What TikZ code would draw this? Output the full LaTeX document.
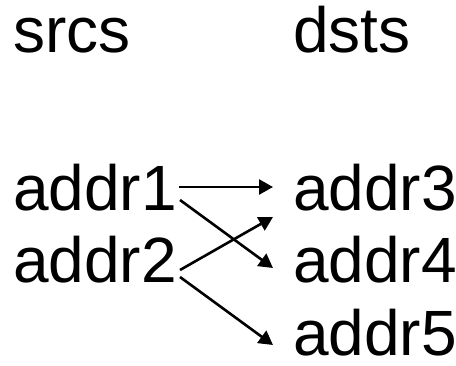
\documentclass[tikz,border=0pt]{standalone}
\usepackage{fontspec}
\setmainfont{Liberation Sans}
\usetikzlibrary{arrows.meta}
\begin{document}
\begin{tikzpicture}[x=1pt,y=1pt,
  lbl/.style={anchor=base west,inner sep=0pt,text depth=0pt,font=\fontsize{64}{76}\selectfont},
  conn/.style={line width=2.6pt,-{Triangle[length=14pt,width=15pt]}}]
\useasboundingbox (0,0) rectangle (456,365);
\node[lbl] (srcs) at (13,312) {srcs};
\node[lbl] (dsts) at (293,312) {dsts};
\node[lbl] (a1) at (13,154) {addr1};
\node[lbl] (a2) at (13,83) {addr2};
\node[lbl] (a3) at (293,154) {addr3};
\node[lbl] (a4) at (293,83) {addr4};
\node[lbl] (a5) at (293,10) {addr5};
\coordinate (s1a) at (179,178);
\coordinate (s1b) at (180,165);
\coordinate (s2a) at (180,95);
\coordinate (s2b) at (180,88);
\coordinate (t3a) at (273,178);
\coordinate (t3b) at (273,148);
\coordinate (t4) at (273,97);
\coordinate (t5) at (273,20);
\draw[conn] (s1a) -- (t3a);
\draw[conn] (s1b) -- (t4);
\draw[conn] (s2a) -- (t3b);
\draw[conn] (s2b) -- (t5);
\end{tikzpicture}
\end{document}
